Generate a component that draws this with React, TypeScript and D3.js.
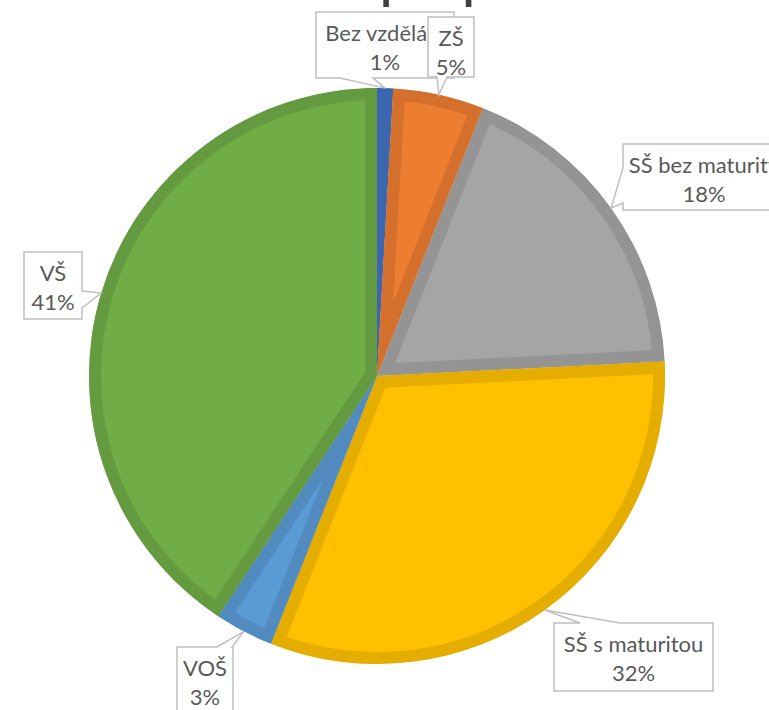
import React from "react";
import * as d3 from "d3";

const categories = ["Bez vzdělání", "ZŠ", "SŠ bez maturity", "SŠ s maturitou", "VOŠ", "VŠ"];
const shares = [0.9, 5.1, 18.2, 31.8, 3.3, 40.7];
const percentLabels = ["1%", "5%", "18%", "32%", "3%", "41%"];
const colors = ["#4472C4", "#ED7D31", "#A5A5A5", "#FFC000", "#5B9BD5", "#70AD47"];
const titleText = "Vzdělanostní struktura populace";

// label box layout: [x, y, w, h, side, n1, n2]
const boxes: [number, number, number, number, string, number, number][] = [
  [316, 12, 138, 66, "bottom", 340, 373],
  [428, 17, 46, 60, "bottom", 437, 447],
  [623, 144, 162, 66, "left", 168, 203],
  [554, 623, 159, 68, "top", 580, 620],
  [177, 647, 56, 68, "top", 217, 232],
  [24, 252, 58, 67, "right", 291, 308],
];

const W = 769, H = 710;
const cx = 377, cy = 376, R = 288;

function calloutPath(b: [number, number, number, number, string, number, number], tip: [number, number]) {
  const [x, y, w, h, side, n1, n2] = b;
  const [tx, ty] = tip;
  if (side === "bottom")
    return `M${x},${y}H${x + w}V${y + h}H${n2}L${tx},${ty}L${n1},${y + h}H${x}Z`;
  if (side === "top")
    return `M${x},${y}H${n1}L${tx},${ty}L${n2},${y}H${x + w}V${y + h}H${x}Z`;
  if (side === "left")
    return `M${x},${y}H${x + w}V${y + h}H${x}V${n2}L${tx},${ty}L${x},${n1}Z`;
  return `M${x},${y}H${x + w}V${n1}L${tx},${ty}L${x + w},${n2}V${y + h}H${x}Z`;
}

export default function App() {
  const pie = d3.pie<number>().sort(null).value((d) => d);
  const arcs = pie(shares);
  const arcGen = d3.arc<d3.PieArcDatum<number>>().innerRadius(0).outerRadius(R);
  const font = "Lato, 'Open Sans', sans-serif";

  return (
    <svg width={W} height={H} style={{ position: "absolute", left: 0, top: 0, background: "#fff" }}>
      <defs>
        {arcs.map((a, i) => (
          <clipPath id={`clip${i}`} key={i}>
            <path d={arcGen(a) || ""} />
          </clipPath>
        ))}
      </defs>
      <text x={669} y={-9} textAnchor="end" fontSize={68} fill="#404040" fontFamily="'Open Sans', sans-serif">
        {titleText}
      </text>
      {arcs.map((a, i) => {
        const c = d3.color(colors[i])!.darker(0.3).formatHex();
        return (
          <path
            key={i}
            d={arcGen(a) || ""}
            transform={`translate(${cx},${cy})`}
            fill={colors[i]}
            stroke={c}
            strokeWidth={24}
            strokeLinejoin="miter"
            clipPath={`url(#clip${i})`}
          />
        );
      })}
      {arcs.map((a, i) => {
        const mid = (a.startAngle + a.endAngle) / 2;
        const tip: [number, number] = [cx + R * Math.sin(mid), cy - R * Math.cos(mid)];
        const b = boxes[i];
        const [x, y, w] = b;
        return (
          <g key={i}>
            <path d={calloutPath(b, tip)} fill="#fff" stroke="#BFBFBF" strokeWidth={1.5} />
            <text x={x + w / 2} y={y + 29} textAnchor="middle" fontSize={22} fill="#595959" fontFamily={font}>
              {categories[i]}
            </text>
            <text x={x + w / 2} y={y + 58} textAnchor="middle" fontSize={22} fill="#595959" fontFamily={font}>
              {percentLabels[i]}
            </text>
          </g>
        );
      })}
    </svg>
  );
}
